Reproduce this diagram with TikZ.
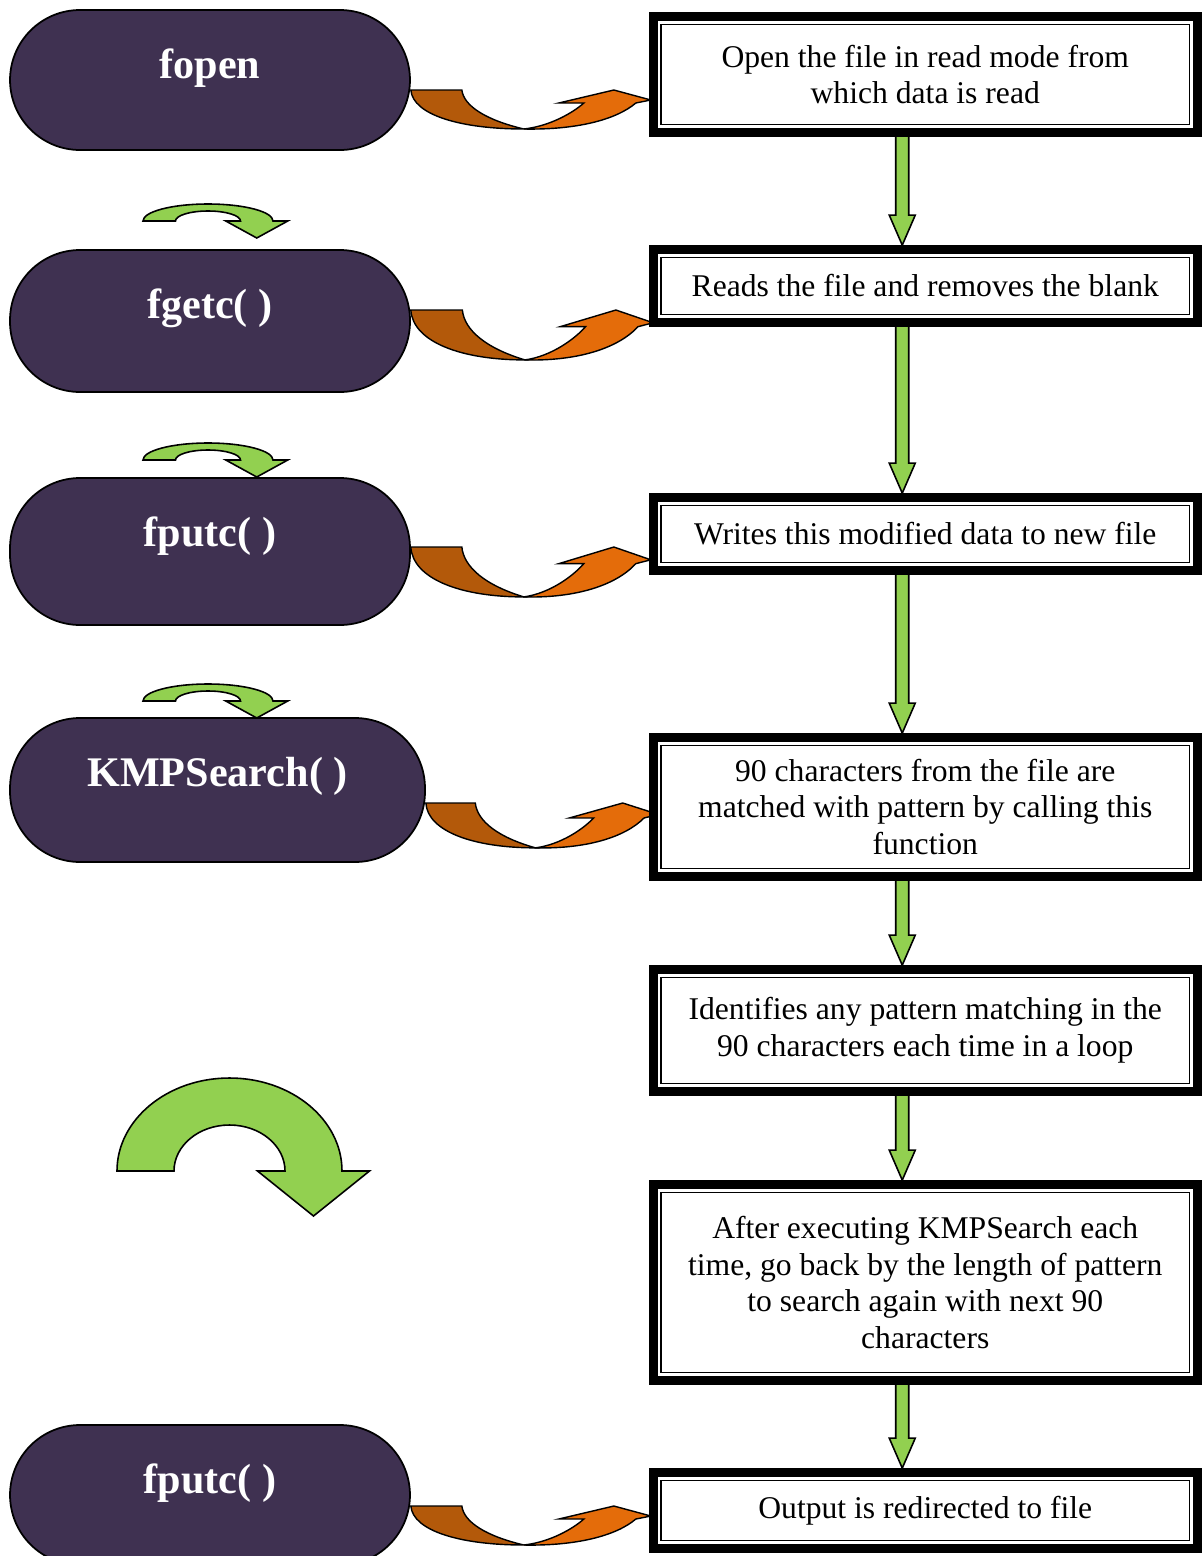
\documentclass[tikz,border=0pt]{standalone}
\usepackage{fontspec}
\setmainfont{Liberation Serif}
\usetikzlibrary{calc,positioning,backgrounds}

\begin{document}
\begin{tikzpicture}[
    x={(0.02cm,0cm)}, y={(0cm,-0.02cm)},
    every node/.style={font=\fontsize{18}{21}\selectfont},
    pill/.style={draw=black, line width=1pt, fill=pillpurple, rounded corners=1.4cm, minimum width=8cm},
    pilltext/.style={text=white, font=\fontsize{24}{28}\selectfont\bfseries},
    stepbox/.style={draw=black, line width=0.18cm, outer sep=0pt, fill=white,
      minimum width=10.89cm, align=center, inner sep=0pt},
    innerrule/.style={draw=black, line width=0.8pt},
    downflow/.style={draw=black, line width=0.9pt, fill=leafgreen},
    curlfill/.style={draw=black, line width=0.9pt, fill=leafgreen},
    bendback/.style={draw=black, line width=0.8pt, fill=burnt},
    bendfront/.style={draw=black, line width=0.8pt, fill=tangerine},
  ]
    \definecolor{pillpurple}{HTML}{3F3151}
    \definecolor{leafgreen}{HTML}{92D050}
    \definecolor{tangerine}{HTML}{E46C0A}
    \definecolor{burnt}{HTML}{B3590A}

    \useasboundingbox (0,0) rectangle (1202,1556);
    \clip (0,0) rectangle (1202,1556);

    \newcommand{\flowdown}[2]{%
      \path[downflow] let \p1=([xshift=-0.46cm]#1.south), \p2=([yshift=2.5pt]#2.north) in
        (\x1-0.13cm,\y1) -- (\x1+0.13cm,\y1) -- (\x1+0.13cm,\y2+0.6cm)
        -- (\x1+0.26cm,\y2+0.6cm) -- (\x1,\y2) -- (\x1-0.26cm,\y2+0.6cm)
        -- (\x1-0.13cm,\y2+0.6cm) -- cycle;
    }
    \newcommand{\bendflow}[4]{% pill, y offset, xscale, yscale
      \begin{scope}[shift={(#1.east)}, shift={(0,#2)}, xscale=#3, yscale=#4]
        \path[bendback] (0,0) -- (51,0) .. controls (53,16) and (75,30) .. (113,39)
          .. controls (50,39) and (2,25) .. cycle;
        \path[bendfront] (113,39) .. controls (140,36) and (163,22) .. (173,13)
          -- (148,13) -- (203,0) -- (240,10) -- (225,13)
          .. controls (205,30) and (165,40) .. cycle;
      \end{scope}
    }
    \newcommand{\curlflow}[8]{% centre x, base y, outer rx, ry, inner rx, ry, head half width, head length
      \pgfmathsetmacro{\curlmid}{(#3+#5)/2}
      \path[curlfill] ({#1-#3},#2) arc[start angle=180, end angle=360, x radius=#3, y radius=#4]
        -- ({#1+\curlmid+#7},#2) -- ({#1+\curlmid},{#2+#8}) -- ({#1+\curlmid-#7},#2)
        -- ({#1+#5},#2) arc[start angle=0, end angle=-180, x radius=#5, y radius=#6] -- cycle;
    }

    % ============ left column: library calls ============
    \node[pill, minimum height=2.8cm]  (fopen)  at (210,80)    {};
    \node[pill, minimum height=2.84cm] (fgetc)  at (210,321)   {};
    \node[pill, minimum height=2.94cm] (fputc)  at (210,551.5) {};
    \node[pill, minimum height=2.88cm, minimum width=8.3cm] (kmp) at (217.5,790) {};
    \node[pill, minimum height=2.8cm]  (fputcb) at (210,1495)  {};

    \node[pilltext] (fopen-t)  at ([yshift=-1.18cm]fopen.north)  {fopen};
    \node[pilltext] (fgetc-t)  at ([yshift=-1.18cm]fgetc.north)  {fgetc( )};
    \node[pilltext] (fputc-t)  at ([yshift=-1.18cm]fputc.north)  {fputc( )};
    \node[pilltext] (kmp-t)    at ([yshift=-1.18cm]kmp.north)    {KMPSearch( )};
    \node[pilltext] (fputcb-t) at ([yshift=-1.18cm]fputcb.north) {fputc( )};

    \foreach \y in {221,460,701}{
      \curlflow{208}{\y}{65}{17}{32.5}{10}{31}{17}
    }
    \curlflow{229.5}{1171}{112.5}{93}{55.5}{46}{56}{45}

    % ============ right column: steps ============
    \node[stepbox, minimum height=2.32cm] (b1) at (925.25,74.5)
      {Open the file in read mode from\\which data is read};
    \node[stepbox, minimum height=1.46cm] (b2) at (925.25,286)
      {Reads the file and removes the blank};
    \node[stepbox, minimum height=1.46cm] (b3) at (925.25,534)
      {Writes this modified data to new file};
    \node[stepbox, minimum height=2.78cm] (b4) at (925.25,807)
      {90 characters from the file are\\matched with pattern by calling this\\function};
    \node[stepbox, minimum height=2.44cm] (b5) at (925.25,1030.5)
      {Identifies any pattern matching in the\\90 characters each time in a loop};
    \node[stepbox, minimum height=3.92cm] (b6) at (925.25,1282.5)
      {After executing KMPSearch each\\time, go back by the length of pattern\\to search again with next 90\\characters};
    \node[stepbox, minimum height=1.52cm] (b7) at (925.25,1510.5)
      {Output is redirected to file};

    \foreach \i in {1,...,7}{
      \draw[innerrule] ([shift={(0.16cm,-0.16cm)}]b\i.north west)
        rectangle ([shift={(-0.16cm,0.16cm)}]b\i.south east);
    }

    % ============ connectors ============
    \begin{scope}[on background layer]
      \foreach \i [evaluate=\i as \j using int(\i+1)] in {1,...,6}{
        \flowdown{b\i}{b\j}
      }
      \bendflow{fopen}{10}{1}{1}
      \bendflow{fgetc}{-11}{1.01}{1.28}
      \bendflow{fputc}{-4.5}{1}{1.28}
      \bendflow{kmp}{13}{0.97}{1.15}
      \bendflow{fputcb}{11}{1}{1}
    \end{scope}
\end{tikzpicture}
\end{document}
